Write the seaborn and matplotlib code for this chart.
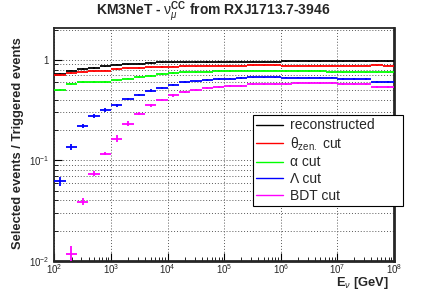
import numpy as np
import matplotlib
matplotlib.use("Agg")
import matplotlib.pyplot as plt
import seaborn as sns
from matplotlib.lines import Line2D
from matplotlib.ticker import LogLocator, FixedLocator, FixedFormatter, NullFormatter

# bin centres in log10(E/GeV), bins are 0.2 decade wide
log_centres = [2.1, 2.3, 2.5, 2.7, 2.9, 3.1, 3.3, 3.5, 3.7, 3.9,
               4.1, 4.3, 4.5, 4.7, 4.9, 5.1, 5.3, 5.5, 5.7, 5.9,
               6.1, 6.3, 6.5, 6.7, 6.9, 7.1, 7.3, 7.5, 7.7, 7.9]
half_width = 0.1

reconstructed = [0.73, 0.78, 0.81, 0.83, 0.86, 0.89, 0.905, 0.91, 0.93, 0.94,
                 0.94, 0.945, 0.95, 0.95, 0.955, 0.955, 0.96, 0.96, 0.96, 0.96,
                 0.965, 0.965, 0.965, 0.965, 0.965, 0.965, 0.965, 0.97, 0.97, 0.965]
zen_cut = [0.70, 0.74, 0.76, 0.77, 0.78, 0.81, 0.82, 0.83, 0.84, 0.85,
           0.855, 0.86, 0.865, 0.87, 0.87, 0.875, 0.875, 0.878, 0.878, 0.878,
           0.875, 0.875, 0.875, 0.875, 0.875, 0.875, 0.875, 0.875, 0.885, 0.87]
alpha_cut = [0.505, 0.58, 0.597, 0.60, 0.606, 0.624, 0.65, 0.674, 0.694, 0.72,
             0.738, 0.75, 0.755, 0.76, 0.772, 0.772, 0.778, 0.778, 0.778, 0.778,
             0.775, 0.775, 0.775, 0.775, 0.75, 0.75, 0.75, 0.75, 0.75, 0.75]
lambda_cut = [0.062, 0.136, 0.218, 0.276, 0.316, 0.353, 0.408, 0.45, 0.495, 0.528,
              0.566, 0.601, 0.61, 0.63, 0.644, 0.649, 0.663, 0.67, 0.67, 0.67,
              0.665, 0.665, 0.665, 0.665, 0.665, 0.64, 0.64, 0.64, 0.605, 0.605]
bdt_cut = [np.nan, 0.0117, 0.039, 0.074, 0.117, 0.165, 0.232, 0.292, 0.355, 0.40,
           0.443, 0.478, 0.505, 0.524, 0.532, 0.545, 0.553, 0.58, 0.58, 0.58,
           0.575, 0.585, 0.585, 0.585, 0.585, 0.572, 0.572, 0.572, 0.537, 0.537]

# statistical errors, only the first low-statistics bins are visibly large
lambda_err_low = [0.0065, 0.009, 0.01]
bdt_err_low = [0.0, 0.0025, 0.003, 0.004, 0.005]

x_ticks = [1e2, 1e3, 1e4, 1e5, 1e6, 1e7, 1e8]
y_ticks = [1e-2, 1e-1, 1]
y_ticklabels = [r"$10^{-2}$", r"$10^{-1}$", "1"]

labels = ["reconstructed", r"$\mathrm{\theta}_{\rm zen.}$ cut", "\u03b1 cut",
          "\u039b cut", "BDT cut"]
colors = ["black", "#ff0000", "#00ff00", "#0000ff", "#ff00ff"]

sns.set_style("ticks")
plt.rcParams["font.family"] = ["Liberation Sans", "DejaVu Sans"]
plt.rcParams["mathtext.fontset"] = "custom"
plt.rcParams["mathtext.rm"] = "Liberation Sans"
plt.rcParams["mathtext.it"] = "Liberation Sans:italic"
plt.rcParams["mathtext.bf"] = "Liberation Sans:bold"

fig = plt.figure(figsize=(4.27, 2.90), dpi=100)
ax = fig.add_axes([54.5 / 427, 1 - 261 / 290, (394 - 54.5) / 427, (261 - 28) / 290])

lc = np.array(log_centres)
x = 10 ** lc
xlo = x - 10 ** (lc - half_width)
xhi = 10 ** (lc + half_width) - x

series = [reconstructed, zen_cut, alpha_cut, lambda_cut, bdt_cut]
for i, (vals, col) in enumerate(zip(series, colors)):
    vals = np.array(vals, dtype=float)
    yerr = np.full(len(vals), 0.012)
    if i == 3:
        yerr[:len(lambda_err_low)] = lambda_err_low
    if i == 4:
        yerr[:len(bdt_err_low)] = bdt_err_low
    ax.errorbar(x, vals, xerr=[xlo, xhi], yerr=yerr, fmt="none",
                ecolor=col, elinewidth=1.3, capsize=0, zorder=3)

ax.set_xscale("log")
ax.set_yscale("log")
ax.set_xlim(1e2, 1e8)
ax.set_ylim(1e-2, 2.07)

ax.yaxis.set_major_locator(FixedLocator(y_ticks))
ax.yaxis.set_major_formatter(FixedFormatter(y_ticklabels))
ax.yaxis.set_minor_locator(LogLocator(base=10, subs=np.arange(2, 10), numticks=20))
ax.yaxis.set_minor_formatter(NullFormatter())
ax.xaxis.set_major_locator(FixedLocator(x_ticks))
ax.xaxis.set_minor_locator(LogLocator(base=10, subs=np.arange(2, 10), numticks=20))
ax.xaxis.set_minor_formatter(NullFormatter())

ax.tick_params(which="both", direction="in", labelsize=7, top=False, right=False,
               color="black")
ax.tick_params(which="major", length=6, width=0.8, pad=4)
ax.tick_params(axis="x", which="major", pad=1.2)
ax.tick_params(which="minor", length=3, width=0.6)

ax.grid(True, which="major", axis="x", linestyle=(0, (1, 2)), color="0.35", lw=0.7)
ax.grid(True, which="both", axis="y", linestyle=(0, (1, 2)), color="0.35", lw=0.7)
ax.set_axisbelow(True)

for side in ["left", "top"]:
    ax.spines[side].set_linewidth(1.3)
for side in ["right", "bottom"]:
    ax.spines[side].set_linewidth(2.0)

fig.text(213 / 427, 1 - 12 / 290, r"KM3NeT - $\mathrm{\nu}_{\mu}^{\mathbf{CC}}$ from RXJ1713.7-3946",
         ha="center", va="center", fontsize=10, fontweight="bold")
fig.text(18 / 427, 1 - 143.5 / 290, "Selected events / Triggered events",
         rotation=90, ha="center", va="center", fontsize=9.3, fontweight="bold")
fig.text(389 / 427, 1 - 283 / 290, r"$\mathbf{E}_{\nu}$ [GeV]",
         ha="right", va="center", fontsize=9.3, fontweight="bold")

handles = [Line2D([], [], color=c, lw=1.0) for c in colors]
leg = ax.legend(handles, labels, loc="upper left",
                bbox_to_anchor=(253 / 427, 1 - 206 / 290, 150 / 427, 91 / 290),
                bbox_transform=fig.transFigure, mode="expand",
                fontsize=10, frameon=True, fancybox=False, framealpha=1,
                edgecolor="black", handlelength=1.9, handletextpad=0.5,
                labelspacing=0.2, borderpad=0.25, borderaxespad=0)
leg.get_frame().set_linewidth(0.8)
leg.set_zorder(5)

fig.savefig("out.png", dpi=100)
